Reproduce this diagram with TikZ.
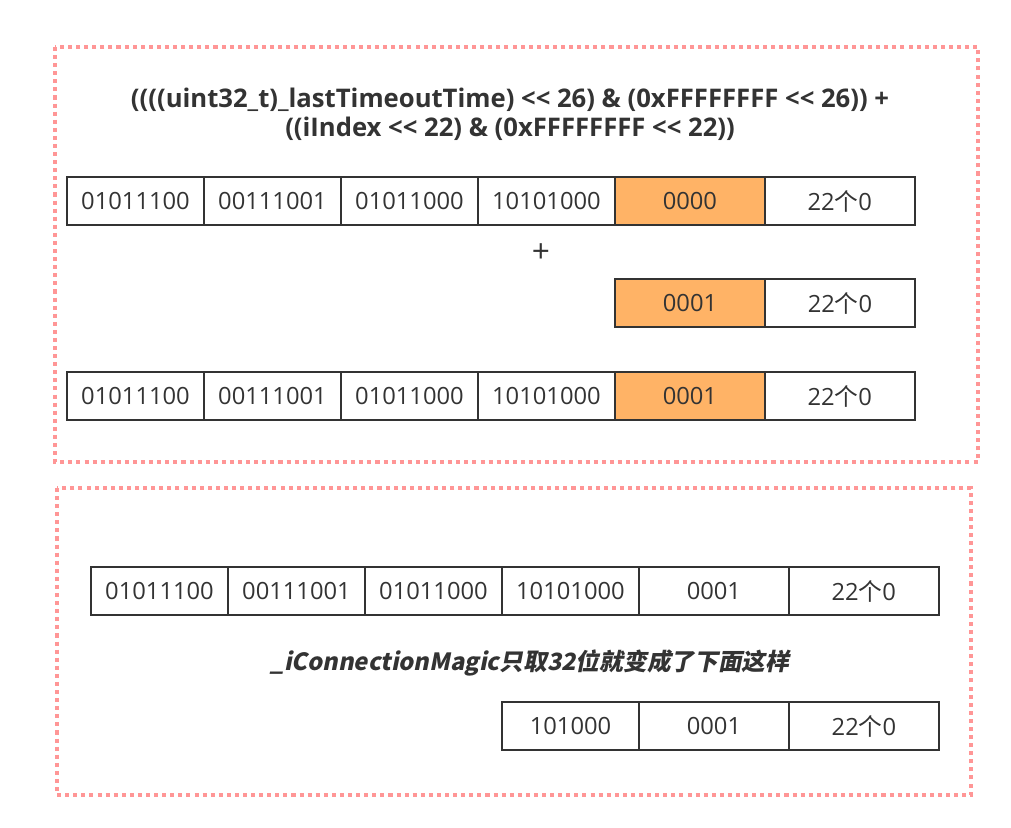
\documentclass[tikz,border=0pt]{standalone}
\usepackage{fontspec}
\setmainfont{Open Sans}
\newfontfamily\cjk{Noto Sans CJK SC}
\newfontfamily\cjkslant{Noto Sans CJK SC}[FakeSlant=0.2]
\usetikzlibrary{positioning}
\definecolor{cellline}{RGB}{51,51,51}
\definecolor{bitorange}{RGB}{255,179,102}
\definecolor{dotpink}{RGB}{255,150,150}
\newcommand{\zeros}{22{\cjk 个}0}
\newcommand{\shl}{<{}<}

\begin{document}
\begin{tikzpicture}[x=0.02cm, y=-0.02cm,
    cell/.style={rectangle, draw=cellline, line width=1.1pt, fill=white,
                 minimum width=2.74cm, minimum height=0.96cm, inner sep=0pt, outer sep=0pt,
                 font=\fontsize{13.5}{16}\selectfont, text=cellline},
    wcell/.style={cell, minimum width=3.0cm},
    hcell/.style={wcell, fill=bitorange},
    frame/.style={draw=dotpink, line width=2pt, dash pattern=on 2.3pt off 2.3pt}]

\useasboundingbox (0,0) rectangle (1011,828);

% Frames
\draw[frame] (55,47) rectangle (978,462);
\draw[frame] (57,488) rectangle (971,795);

% Expression
\node[font=\bfseries\fontsize{14.6}{16.4}\selectfont, text=cellline, align=center] (expr) at (510,114)
  {((((uint32\_t)\_lastTimeoutTime) \shl{} 26) \& (0xFFFFFFFF \shl{} 26)) +\\((iIndex \shl{} 22) \& (0xFFFFFFFF \shl{} 22))};

% Row 1
\node[cell, anchor=west] (a1) at (67,201) {01011100};
\node[cell, right=0pt of a1] (a2) {00111001};
\node[cell, right=0pt of a2] (a3) {01011000};
\node[cell, right=0pt of a3] (a4) {10101000};
\node[hcell, right=0pt of a4] (a5) {0000};
\node[wcell, right=0pt of a5] (a6) {\zeros};

\node[font=\fontsize{18}{20}\selectfont, text=cellline] (plus) at (541,253) {+};

% Row 2
\node[hcell, anchor=west] (b5) at (615,303) {0001};
\node[wcell, right=0pt of b5] (b6) {\zeros};

% Row 3
\node[cell, anchor=west] (c1) at (67,396) {01011100};
\node[cell, right=0pt of c1] (c2) {00111001};
\node[cell, right=0pt of c2] (c3) {01011000};
\node[cell, right=0pt of c3] (c4) {10101000};
\node[hcell, right=0pt of c4] (c5) {0001};
\node[wcell, right=0pt of c5] (c6) {\zeros};

% Row 4
\node[cell, anchor=west] (d1) at (91,591) {01011100};
\node[cell, right=0pt of d1] (d2) {00111001};
\node[cell, right=0pt of d2] (d3) {01011000};
\node[cell, right=0pt of d3] (d4) {10101000};
\node[wcell, right=0pt of d4] (d5) {0001};
\node[wcell, right=0pt of d5] (d6) {\zeros};

\node[font=\cjkslant\bfseries\fontsize{13.5}{16}\selectfont, text=cellline] (note) at (530,663)
  {\_iConnectionMagic只取32位就变成了下面这样};

% Row 5
\node[cell, anchor=west] (e4) at (502,726) {101000};
\node[wcell, right=0pt of e4] (e5) {0001};
\node[wcell, right=0pt of e5] (e6) {\zeros};
\end{tikzpicture}
\end{document}
